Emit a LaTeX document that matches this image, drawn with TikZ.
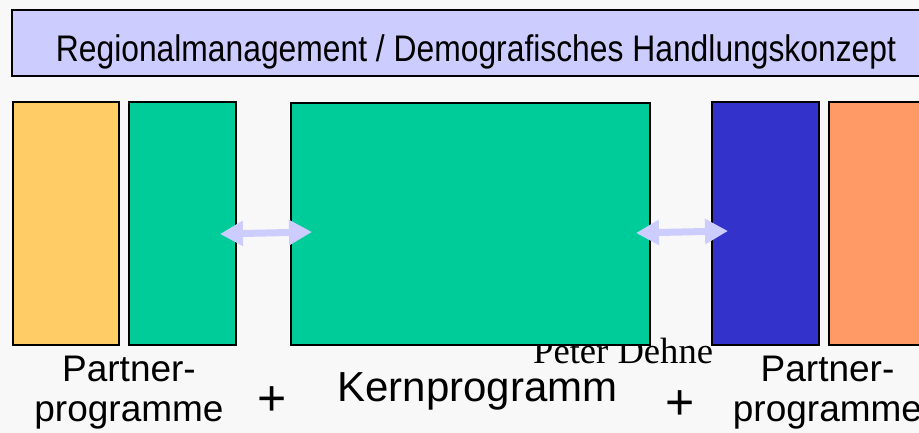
\documentclass[tikz,border=0pt]{standalone}
\usepackage{fontspec}
\setmainfont{Liberation Sans}
\newfontfamily\serifface{Liberation Serif}
\usetikzlibrary{arrows.meta}
\definecolor{bgc}{HTML}{F8F8F8}
\definecolor{lav}{HTML}{CCCCFF}
\definecolor{yel}{HTML}{FFCC66}
\definecolor{grn}{HTML}{00CC99}
\definecolor{blu}{HTML}{3333CC}
\definecolor{org}{HTML}{FF9966}
\tikzset{
  prog/.style={draw=black, line width=1.4pt, inner sep=0pt},
  link/.style={draw=lav, line width=7pt, {Triangle[length=23pt,width=24pt]}-{Triangle[length=23pt,width=24pt]}},
  lbl/.style={inner sep=0pt, font=\fontsize{37}{40}\selectfont},
  plus/.style={inner sep=0pt, anchor=base, font=\fontsize{50}{50}\selectfont},
}
\begin{document}
\begin{tikzpicture}[x=1pt,y=-1pt]
\useasboundingbox (0,0) rectangle (919,433);
\fill[bgc] (0,0) rectangle (919,433);
\clip (0,0) rectangle (919,433);
% banner
\draw[fill=lav, line width=1.4pt] (12,10) rectangle (935,76);
\node[inner sep=0pt, anchor=base] (banner) at (476,62) {\fontsize{37}{40}\selectfont\scalebox{0.86}[1]{Regionalmanagement / Demografisches Handlungskonzept}};
% author (behind boxes)
\node[inner sep=0pt, anchor=base west, font=\serifface\fontsize{36.6}{40}\selectfont] (author) at (533,363) {Peter Dehne};
% boxes
\path[prog, fill=yel] (13,102) rectangle (119,345) node[pos=0.5] (yel) {};
\path[prog, fill=grn] (129,102) rectangle (236,345) node[pos=0.5] (g1) {};
\path[prog, fill=grn] (291,103) rectangle (650,345) node[pos=0.5] (core) {};
\path[prog, fill=blu] (712,102) rectangle (819,345) node[pos=0.5] (blu) {};
\path[prog, fill=org] (829,102) rectangle (945,345) node[pos=0.5] (org) {};
% arrows
\coordinate (la) at (220,234);
\coordinate (lb) at (312,232);
\coordinate (ra) at (636,233);
\coordinate (rb) at (728,231);
\draw[link] (la) -- (lb);
\draw[link] (ra) -- (rb);
% labels
\node[lbl, anchor=base] (pl1) at (129,381.7) {Partner-};
\node[lbl, anchor=base] (pl2) at (129,421.7) {programme};
\node[lbl, anchor=base] (pr1) at (827.5,381.7) {Partner-};
\node[lbl, anchor=base] (pr2) at (827.5,421.7) {programme};
\node[inner sep=0pt, anchor=base, font=\fontsize{42}{46}\selectfont] (kern) at (477.5,401) {Kernprogramm};
\node[plus] (p1) at (272.5,415.6) {+};
\node[plus] (p2) at (680.5,419.6) {+};
\end{tikzpicture}
\end{document}
